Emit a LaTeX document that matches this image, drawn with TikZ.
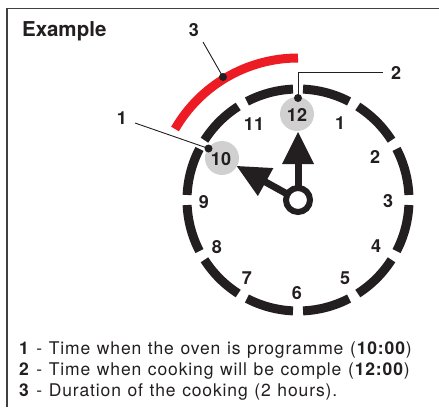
\documentclass[tikz,border=0pt]{standalone}
\usepackage{fontspec}
\setmainfont{TeX Gyre Heros}
\newfontfamily\legfont[LetterSpace=5,WordSpace=1.15]{TeX Gyre Heros}
\usetikzlibrary{calc}
\definecolor{clkred}{RGB}{237,28,36}
\definecolor{clkgray}{RGB}{208,208,208}
\definecolor{ink}{RGB}{35,31,32}
\begin{document}
\begin{tikzpicture}[x=1pt,y=1pt,
  seg/.style={line width=9pt, draw=ink},
  num/.style={font=\fontsize{18}{18}\selectfont\bfseries, text=ink, inner sep=0pt},
  leader/.style={line width=0.9pt, draw=ink},
  dotm/.style={circle, fill=ink, inner sep=0pt, minimum size=8pt},
  hl/.style={circle, fill=clkgray, minimum size=34pt, inner sep=0pt},
  legend/.style={anchor=base west, font=\legfont\fontsize{17.5}{21}\selectfont, text=ink, inner sep=0pt},
  title/.style={anchor=base west, font=\fontsize{20.5}{20}\selectfont\bfseries, text=ink, inner sep=0pt}]
\useasboundingbox (0,0) rectangle (439,-407);
\fill[white] (0,0) rectangle (439,-407);
\coordinate (C) at (298,-200);
% frame
\draw[line width=1.5pt, black!75] (7,-407) -- (7,-8.5) -- (439,-8.5);
\node[title] (title) at (22,-36.7) {Example};
% red duration arc
\draw[line width=9pt, clkred] ([shift={(90:142)}]C) arc[start angle=90, end angle=150, radius=142];
% dial segments
\foreach \h [evaluate=\h as \a using \h*30+2.6, evaluate=\h as \b using \h*30+27.4] in {0,...,11} {
  \draw[seg] ([shift={(\a:111)}]C) arc[start angle=\a, end angle=\b, radius=111];
}
% highlights
\node[hl] (hl12) at (297,-114) {};
\node[hl] (hl10) at (222,-158) {};
% numbers
\node[num] (n12) at (297,-115) {12};
\node[num] (n1) at (340,-123) {1};
\node[num] (n2) at (375,-157) {2};
\node[num] (n3) at (388,-201) {3};
\node[num] (n4) at (376,-246) {4};
\node[num] (n5) at (345,-278) {5};
\node[num] (n6) at (297,-293) {6};
\node[num] (n7) at (247,-278) {7};
\node[num] (n8) at (217,-247) {8};
\node[num] (n9) at (204,-202) {9};
\node[num] (n10) at (221,-159) {10};
\node[num] (n11) at (254,-124) {11};
% hands
\coordinate (mtip) at (298,-132);
\coordinate (mbase) at (298,-164);
\draw[line width=7pt, ink] (C) -- (mbase);
\fill[ink] (mtip) -- ($(mbase)+(-16,0)$) -- ($(mbase)+(16,0)$) -- cycle;
\coordinate (htip) at ($(C)+(151:70)$);
\coordinate (hbase) at ($(C)+(151:37)$);
\draw[line width=7pt, ink] (C) -- ($(C)+(151:39)$);
\fill[ink] (htip) -- ($(hbase)+(61:16)$) -- ($(hbase)+(241:16)$) -- cycle;
\draw[line width=6pt, ink, fill=white] (C) circle[radius=12];
% leaders
\node[dotm] (d1) at (208.5,-148.5) {};
\node[dotm] (d2) at (298,-98) {};
\node[dotm] (d3) at (223,-77) {};
\node[num] (lab1) at (122,-118) {1};
\node[num] (lab2) at (396,-73) {2};
\node[num] (lab3) at (194,-30) {3};
\coordinate (e1) at (135,-123);
\coordinate (e2) at (383,-72);
\coordinate (e3) at (203,-42);
\draw[leader] (e1) -- (d1.center);
\draw[leader] (d2.center) -- (298,-72) -- (e2);
\draw[leader] (e3) -- (d3.center);
% legend
\node[legend] (l1) at (19,-354) {\textbf{1} - Time when the oven is programme (\textbf{10:00})};
\node[legend] (l2) at (19,-375) {\textbf{2} - Time when cooking will be comple (\textbf{12:00})};
\node[legend] (l3) at (19,-396) {\textbf{3} - Duration of the cooking (2 hours).};
\end{tikzpicture}
\end{document}
